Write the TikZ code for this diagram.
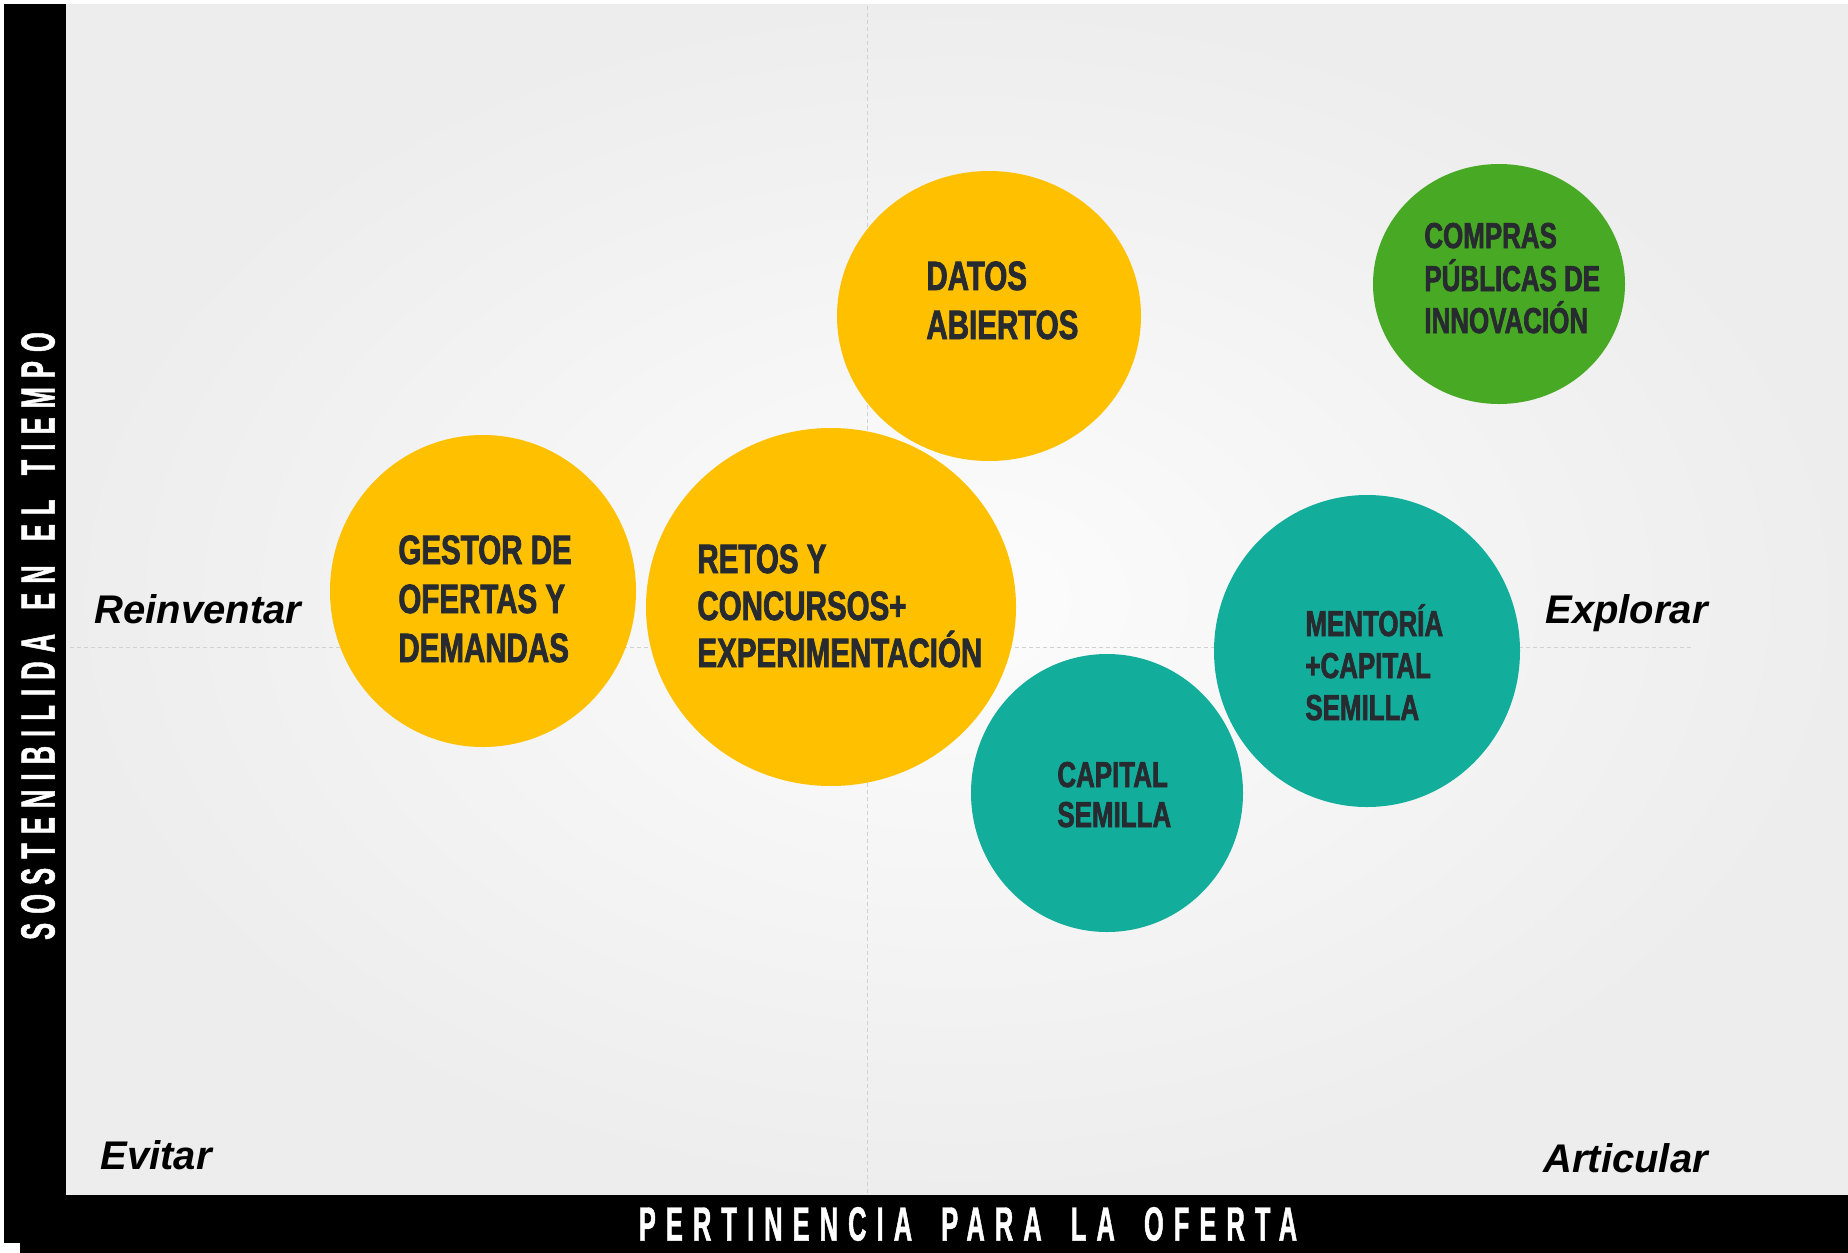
\documentclass[tikz,border=0pt]{standalone}
\usepackage{fontspec}
\setmainfont{Liberation Sans}
\newfontfamily\circfont[FakeStretch=0.72,FakeBold=1.8]{Liberation Sans Bold}
\newfontfamily\axisfont[FakeStretch=0.53,LetterSpace=21,FakeBold=1]{Liberation Sans Bold}
\newfontfamily\axisfontv[FakeStretch=0.53,LetterSpace=19,FakeBold=1]{Liberation Sans Bold}
\usetikzlibrary{shapes.geometric}
\definecolor{gold}{HTML}{FFC000}
\definecolor{grn}{HTML}{48A924}
\definecolor{teal2}{HTML}{13AE9B}
\definecolor{txt}{HTML}{272B30}
\newcommand{\wsp}[1]{\hspace{#1}}
\tikzset{
  bubble/.style={ellipse, inner sep=0pt, draw=none},
  lineb/.style={anchor=base west, inner sep=0pt, text=txt, font=\circfont\fontsize{20.5}{22}\selectfont},
  lines/.style={anchor=base west, inner sep=0pt, text=txt, font=\circfont\fontsize{18}{20}\selectfont},
  corner/.style={anchor=base west, inner sep=0pt, text=black, font=\bfseries\itshape\fontsize{20}{22}\selectfont},
  axislbl/.style={inner sep=0pt, text=white, font=\axisfont\fontsize{24}{26}\selectfont},
  axislblv/.style={inner sep=0pt, text=white, font=\axisfontv\fontsize{24}{26}\selectfont},
  guide/.style={dashed, dash pattern=on 2pt off 1.5pt, draw=black!18, line width=0.5pt}
}
\begin{document}
\begin{tikzpicture}[x=0.5pt,y=-0.5pt]
\useasboundingbox (0,0) rectangle (1848,1253);
\fill[white] (0,0) rectangle (1848,1253);
\shade[inner color=black!1, outer color=black!7] (66,4) rectangle (1848,1195);
% frame
\fill[black] (4,4) rectangle (66,1243);
\fill[black] (20,1195) rectangle (1848,1253);
% guides
\coordinate (h1) at (70,647);
\coordinate (h2) at (1694,647);
\coordinate (v1) at (867,6);
\coordinate (v2) at (867,1195);
\draw[guide] (h1) -- (h2);
\draw[guide] (v1) -- (v2);
% bubbles
\node[bubble, fill=gold, minimum width=152pt, minimum height=145pt] (c-datos) at (989,316) {};
\node[bubble, fill=grn, minimum width=126pt, minimum height=120pt] (c-compras) at (1499,284) {};
\node[bubble, fill=gold, minimum width=153pt, minimum height=156pt] (c-gestor) at (483,591) {};
\node[bubble, fill=gold, minimum width=185pt, minimum height=179pt] (c-retos) at (831,607) {};
\node[bubble, fill=teal2, minimum width=153pt, minimum height=156pt] (c-mentoria) at (1367,651) {};
\node[bubble, fill=teal2, minimum width=136pt, minimum height=139pt] (c-capital) at (1107,793) {};
% texts
\node[lineb] (t-datos-1) at (926,290) {DATOS};
\node[lineb] (t-datos-2) at (926,339) {ABIERTOS};
\node[lines] (t-compras-1) at (1424,248) {COMPRAS};
\node[lines] (t-compras-2) at (1424,291) {PÚBLICAS DE};
\node[lines] (t-compras-3) at (1424,333) {INNOVACIÓN};
\node[lineb] (t-gestor-1) at (398,564) {GESTOR DE};
\node[lineb] (t-gestor-2) at (398,613) {OFERTAS Y};
\node[lineb] (t-gestor-3) at (398,662) {DEMANDAS};
\node[lineb] (t-retos-1) at (697,573) {RETOS Y};
\node[lineb] (t-retos-2) at (697,620) {CONCURSOS+};
\node[lineb] (t-retos-3) at (697,667) {EXPERIMENTACIÓN};
\node[lines] (t-ment-1) at (1305,636) {MENTORÍA};
\node[lines] (t-ment-2) at (1305,678) {+CAPITAL};
\node[lines] (t-ment-3) at (1305,720) {SEMILLA};
\node[lines] (t-cap-1) at (1057,787) {CAPITAL};
\node[lines] (t-cap-2) at (1057,827) {SEMILLA};
% corners
\node[corner] (reinventar) at (94,623) {Reinventar};
\node[corner] (explorar) at (1545,623) {Explorar};
\node[corner] (evitar) at (100,1169) {Evitar};
\node[corner] (articular) at (1543,1172) {Articular};
% axes
\node[axislbl] (xaxis) at (968,1224) {PERTINENCIA \wsp{6pt}PARA \wsp{6pt}LA \wsp{6pt}OFERTA};
\node[axislblv, rotate=90] (yaxis) at (38,636) {SOSTENIBILIDA \wsp{4pt}EN \wsp{4pt}EL \wsp{4pt}TIEMPO};
\end{tikzpicture}
\end{document}
